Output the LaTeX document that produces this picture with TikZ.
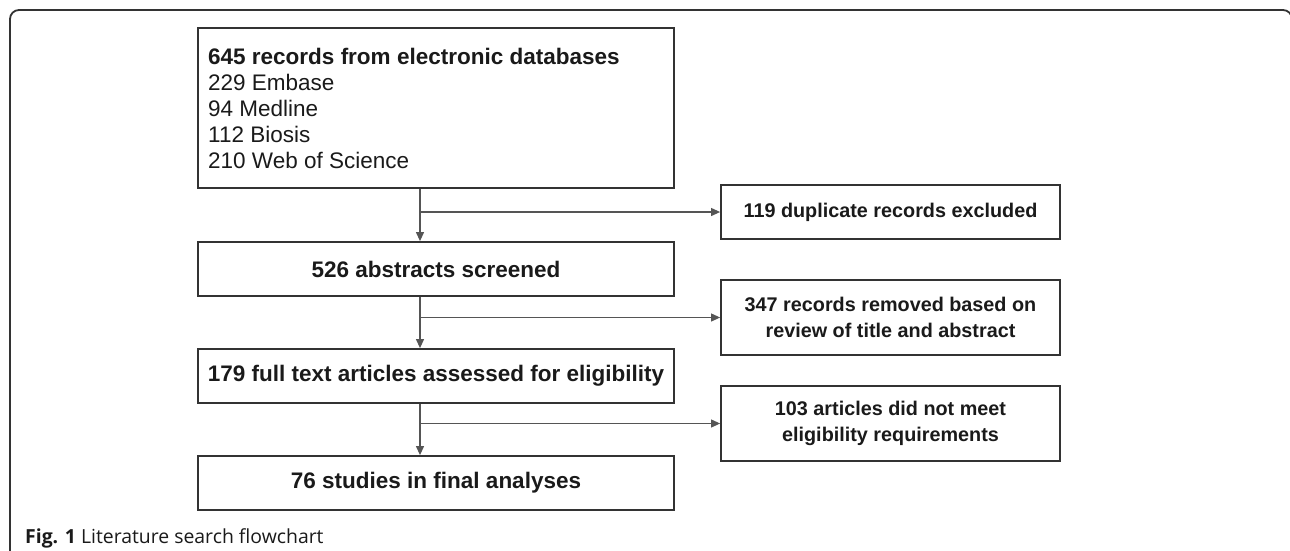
\documentclass[tikz,border=0pt]{standalone}
\usepackage{fontspec}
\setmainfont{Liberation Sans}
\newfontfamily\capfont{Open Sans}
\usetikzlibrary{arrows.meta}
\definecolor{boxline}{HTML}{333333}
\definecolor{linkline}{HTML}{555555}
\definecolor{ink}{HTML}{1A1A1A}
\begin{document}
\begin{tikzpicture}[x=1pt,y=-1pt,
  flowbox/.style={draw=boxline,line width=1.8pt,rectangle,inner sep=0pt,
    minimum width=476pt,minimum height=54pt,text=ink,align=center,
    font=\fontsize{22.5}{26}\selectfont\bfseries},
  sidebox/.style={flowbox,minimum width=339pt,
    font=\fontsize{19.8}{26}\selectfont\bfseries},
  link/.style={draw=linkline,line width=1.1pt,
    -{Triangle[length=9pt,width=8pt]}}]
\useasboundingbox (0,0) rectangle (1290,550);
% outer frame, open at the bottom
\draw[line width=1.8pt,draw=boxline,rounded corners=9pt]
  (10,560) -- (10,10) -- (1292,10) -- (1292,560);
% main column
\node[flowbox,minimum height=160pt] (src) at (436,108) {};
% base of a multi-line node is the baseline of its last line
\node[anchor=base west,inner sep=0pt,text=ink,align=left,
  font=\fontsize{22.5}{26}\selectfont] (srctxt) at (208,168)
  {\textbf{645 records from electronic databases}\\
   229 Embase\\94 Medline\\112 Biosis\\210 Web of Science};
\node[flowbox] (scr) at (436,269) {526 abstracts screened};
\node[flowbox] (full) at (436,376) {179 full text articles assessed for eligibility};
\node[flowbox] (fin) at (436,483) {76 studies in final analyses};
% exclusions
\node[sidebox] (dup) at (890.5,212) {119 duplicate records excluded};
\node[sidebox,minimum height=75pt] (rem) at (890.5,317.5)
  {347 records removed based on\\review of title and abstract};
\node[sidebox,minimum height=75pt] (nel) at (890.5,423.5)
  {103 articles did not meet\\eligibility requirements};
% connectors
\coordinate (j1) at (420,212);
\coordinate (j2) at (420,317.5);
\coordinate (j3) at (420,423.5);
\draw[link] (j1 |- src.south) -- (j1 |- scr.north);
\draw[link] (j1) -- (dup.west);
\draw[link] (j2 |- scr.south) -- (j2 |- full.north);
\draw[link] (j2) -- (rem.west);
\draw[link] (j3 |- full.south) -- (j3 |- fin.north);
\draw[link] (j3) -- (nel.west);
% caption
\node[anchor=base west,inner sep=0pt,text=ink,font=\capfont\fontsize{19.4}{22}\selectfont]
  (cap) at (25,543) {\textbf{Fig. 1} Literature search flowchart};
\end{tikzpicture}
\end{document}
